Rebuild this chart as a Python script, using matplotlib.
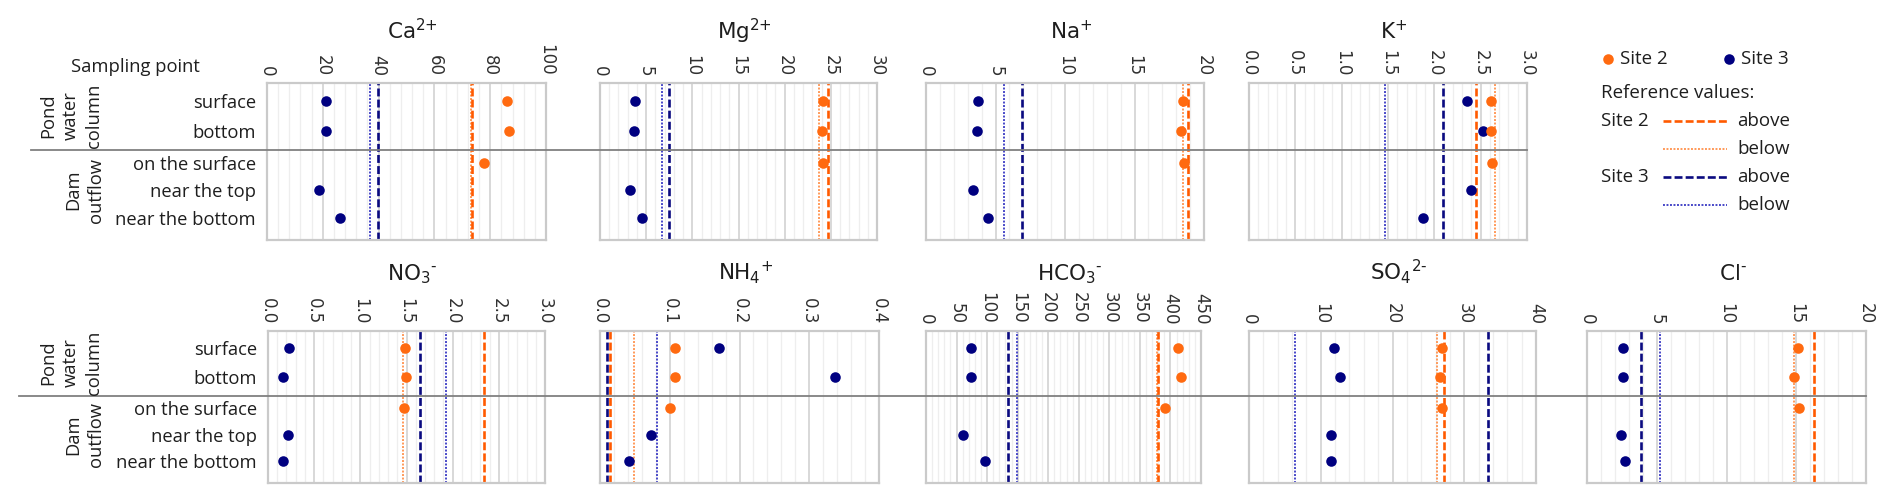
import matplotlib
matplotlib.use('Agg')
import matplotlib.pyplot as plt
from matplotlib.lines import Line2D
from matplotlib.ticker import MultipleLocator, FormatStrFormatter

plt.rcParams['font.family'] = ['Open Sans', 'DejaVu Sans']
plt.rcParams['mathtext.fontset'] = 'dejavusans'
plt.rcParams['mathtext.default'] = 'regular'

# ---------------- data ----------------
sampling_points = ['surface', 'bottom', 'on the surface', 'near the top', 'near the bottom']
site2_idx = [0, 1, 2]          # surface, bottom, on the surface
site3_idx = [0, 1, 3, 4]       # surface, bottom, near the top, near the bottom

ions = ['Ca', 'Mg', 'Na', 'K', 'NO3', 'NH4', 'HCO3', 'SO4', 'Cl']
titles = ['Ca$^{2{+}}$', 'Mg$^{2{+}}$', 'Na$^{{+}}$', 'K$^{{+}}$',
          'NO$_3$$^{\u2010}$', 'NH$_4$$^{{+}}$', 'HCO$_3$$^{\u2010}$', 'SO$_4$$^{2\u2010}$',
          'Cl$^{\u2010}$']

site2 = {
    'Ca':   [85.9, 86.7, 77.6],
    'Mg':   [24.1, 24.05, 24.1],
    'Na':   [18.5, 18.36, 18.54],
    'K':    [2.61, 2.61, 2.625],
    'NO3':  [1.483, 1.49, 1.475],
    'NH4':  [0.107, 0.108, 0.100],
    'HCO3': [412.5, 416.6, 391.4],
    'SO4':  [26.84, 26.6, 26.84],
    'Cl':   [15.14, 14.85, 15.19],
}
site3 = {
    'Ca':   [21.3, 21.0, 18.8, 26.2],
    'Mg':   [3.74, 3.70, 3.24, 4.6],
    'Na':   [3.76, 3.67, 3.4, 4.48],
    'K':    [2.355, 2.524, 2.40, 1.879],
    'NO3':  [0.227, 0.163, 0.218, 0.163],
    'NH4':  [0.171, 0.337, 0.073, 0.041],
    'HCO3': [73.5, 73.5, 61.3, 96.0],
    'SO4':  [11.83, 12.64, 11.48, 11.42],
    'Cl':   [2.59, 2.59, 2.44, 2.71],
}
# reference values: (above, below)
ref_site2 = {
    'Ca': (73.4, 73.0), 'Mg': (24.7, 23.7), 'Na': (18.87, 18.5), 'K': (2.452, 2.658),
    'NO3': (2.34, 1.458), 'NH4': (0.014, 0.0485), 'HCO3': (379.0, 378.5),
    'SO4': (27.13, 26.14), 'Cl': (16.26, 14.87),
}
ref_site3 = {
    'Ca': (39.9, 36.9), 'Mg': (7.43, 6.67), 'Na': (6.9, 5.64), 'K': (2.09, 1.468),
    'NO3': (1.643, 1.925), 'NH4': (0.010, 0.082), 'HCO3': (134.8, 149.0),
    'SO4': (33.33, 6.43), 'Cl': (3.88, 5.2),
}
axis_max = {'Ca': 100, 'Mg': 30, 'Na': 20, 'K': 3.0, 'NO3': 3.0, 'NH4': 0.4,
            'HCO3': 450, 'SO4': 40, 'Cl': 20}
axis_step = {'Ca': 20, 'Mg': 5, 'Na': 5, 'K': 0.5, 'NO3': 0.5, 'NH4': 0.1,
             'HCO3': 50, 'SO4': 10, 'Cl': 5}
tick_fmt = {'K': '%.1f', 'NO3': '%.1f', 'NH4': '%.1f'}

# ---------------- layout ----------------
W, H = 1892, 503
fig = plt.figure(figsize=(W / 100, H / 100), dpi=100)

def fx(px):
    return px / W

def fy(py):
    return 1 - py / H

row_pos = [0.115, 0.305, 0.508, 0.682, 0.857]
sep_pos = 0.427

# (left, right, top, bottom) in pixels
boxes = {
    'Ca': (267, 546, 83, 240), 'Mg': (600, 877, 83, 240), 'Na': (926, 1204, 83, 240),
    'K': (1249, 1527, 83, 240),
    'NO3': (268, 545, 331, 483), 'NH4': (600, 879, 331, 483), 'HCO3': (926, 1201, 331, 483),
    'SO4': (1249, 1536, 331, 483), 'Cl': (1587, 1866, 331, 483),
}

ORANGE = '#ff6a10'
NAVY = '#000080'
ORANGE_DASH = '#ff5a00'
ORANGE_DOT = '#ff9a5a'
NAVY_DASH = '#0a0a80'
NAVY_DOT = '#4848c8'
TXT = '#1e1e1e'
MS = 7.6

axes = {}
for ion, title in zip(ions, titles):
    l, r, t, b = boxes[ion]
    ax = fig.add_axes([fx(l), fy(b), (r - l) / W, (b - t) / H])
    axes[ion] = ax
    ax.set_xlim(0, axis_max[ion])
    ax.set_ylim(1, 0)
    ax.xaxis.set_major_locator(MultipleLocator(axis_step[ion]))
    ax.xaxis.set_minor_locator(MultipleLocator(axis_step[ion] / 5))
    if ion in tick_fmt:
        ax.xaxis.set_major_formatter(FormatStrFormatter(tick_fmt[ion]))
    ax.grid(which='major', axis='x', color='#d6d6d6', lw=1.3)
    ax.grid(which='minor', axis='x', color='#eeeeee', lw=0.9)
    ax.set_axisbelow(True)
    ax.xaxis.tick_top()
    ax.tick_params(axis='x', which='both', length=0, pad=5, labelrotation=-90,
                   labelsize=12, labelcolor='#303030')
    for lab in ax.get_xticklabels():
        lab.set_family('DejaVu Sans')
    ax.set_yticks(row_pos)
    if ion in ('Ca', 'NO3'):
        ax.set_yticklabels(sampling_points, fontsize=13.2, color=TXT)
    else:
        ax.set_yticklabels([])
    ax.tick_params(axis='y', length=0, pad=8)
    for sp in ax.spines.values():
        sp.set_color('#cacaca')
        sp.set_linewidth(1.6)

    a3, b3 = ref_site3[ion]
    a2, b2 = ref_site2[ion]
    ax.axvline(b3, color=NAVY_DOT, ls=(0, (1, 0.8)), lw=1.4, zorder=2)
    ax.axvline(b2, color=ORANGE_DOT, ls=(0, (1, 0.8)), lw=1.4, zorder=2)
    ax.axvline(a3, color=NAVY_DASH, ls=(0, (3, 1.2)), lw=1.9, zorder=2)
    ax.axvline(a2, color=ORANGE_DASH, ls=(0, (3, 1.2)), lw=1.9, zorder=2)

    ax.plot(site3[ion], [row_pos[i] for i in site3_idx], 'o', color=NAVY, ms=MS,
            mec='none', zorder=5, clip_on=False)
    ax.plot(site2[ion], [row_pos[i] for i in site2_idx], 'o', color=ORANGE, ms=MS,
            mec='none', zorder=6, clip_on=False)

    ty = 39 if t < 200 else 280
    fig.text(fx((l + r) / 2 + 6), fy(ty), title, ha='center', va='baseline', fontsize=15.5,
             color=TXT, family='DejaVu Sans')

# separator lines across the figure
for (x0, x1, ax_ion) in [(31, 1527, 'Ca'), (19, 1866, 'NO3')]:
    l, r, t, b = boxes[ax_ion]
    ysep = t + sep_pos * (b - t)
    fig.add_artist(Line2D([fx(x0), fx(x1)], [fy(ysep), fy(ysep)], color='#808080', lw=1.3))

# row-group labels
fig.text(fx(200), fy(67), 'Sampling point', ha='right', va='center', fontsize=13.2, color=TXT)
for (l, r, t, b) in [boxes['Ca'], boxes['NO3']]:
    y_pond = t + (row_pos[0] + row_pos[1]) / 2 * (b - t)
    y_dam = t + (row_pos[2] + row_pos[4]) / 2 * (b - t)
    fig.text(fx(71), fy(y_pond), 'Pond\nwater\ncolumn', rotation=90, ha='center', va='center',
             multialignment='center', fontsize=13.2, linespacing=1.35, color=TXT)
    fig.text(fx(85), fy(y_dam), 'Dam\noutflow', rotation=90, ha='center', va='center',
             multialignment='center', fontsize=13.2, linespacing=1.35, color=TXT)

# legend (custom layout)
lfs = 13.5
fig.add_artist(Line2D([fx(1608)], [fy(59)], marker='o', color=ORANGE, ms=MS, mec='none', lw=0))
fig.text(fx(1620), fy(59), 'Site 2', ha='left', va='center', fontsize=lfs, color=TXT)
fig.add_artist(Line2D([fx(1729)], [fy(59)], marker='o', color=NAVY, ms=MS, mec='none', lw=0))
fig.text(fx(1741), fy(59), 'Site 3', ha='left', va='center', fontsize=lfs, color=TXT)
fig.text(fx(1601), fy(93), 'Reference values:', ha='left', va='center', fontsize=lfs, color=TXT)
leg_rows = [
    (121, 'Site 2', ORANGE_DASH, (0, (3, 1.2)), 1.9, 'above'),
    (149, '', ORANGE_DOT, (0, (1, 0.8)), 1.4, 'below'),
    (177, 'Site 3', NAVY_DASH, (0, (3, 1.2)), 1.9, 'above'),
    (205, '', NAVY_DOT, (0, (1, 0.8)), 1.4, 'below'),
]
for y, lab, col, ls, lw, txt in leg_rows:
    if lab:
        fig.text(fx(1601), fy(y), lab, ha='left', va='center', fontsize=lfs, color=TXT)
    fig.add_artist(Line2D([fx(1663), fx(1727)], [fy(y), fy(y)], color=col, ls=ls, lw=lw))
    fig.text(fx(1737), fy(y), txt, ha='left', va='center', fontsize=lfs, color=TXT)

fig.savefig('out.png', dpi=100)
